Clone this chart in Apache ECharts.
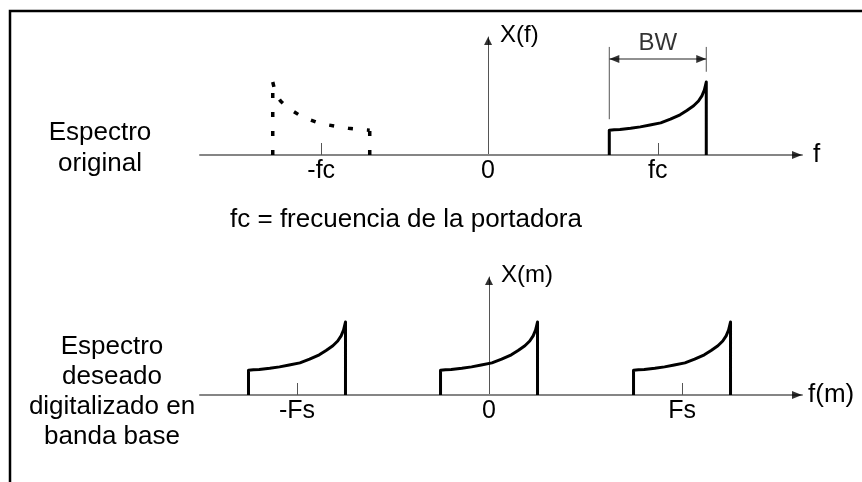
<!DOCTYPE html>
<html><head><meta charset="utf-8">
<script src="https://cdn.jsdelivr.net/npm/echarts@6/dist/echarts.min.js"></script>
<style>html,body{margin:0;padding:0;background:#fff}#c{width:862px;height:482px}</style>
</head><body><div id="c"></div>
<script>
// Shape of one band (relative position across the band, relative amplitude)
const shapeT = [0, 0.05, 0.11, 0.22, 0.32, 0.42, 0.53, 0.63, 0.73, 0.80, 0.87, 0.92, 0.955, 0.98, 1.0];
const shapeH = [0.34, 0.345, 0.35, 0.365, 0.385, 0.41, 0.44, 0.49, 0.55, 0.61, 0.675, 0.74, 0.81, 0.89, 1.0];
const bandwidth = 1;

// Top panel: original spectrum
const topSolidCenters = [1.75];
const topMirrorCenters = [-1.72];
const topTickValues = [-1.72, 0, 1.75];
const topTickLabels = ['-fc', '0', 'fc'];
const topRange = [-2.97, 3.237];

// Bottom panel: baseband spectrum
const bottomCenters = [-1.98, 0, 1.99];
const bottomTickValues = [-1.98, 0, 1.99];
const bottomTickLabels = ['-Fs', '0', 'Fs'];
const bottomRange = [-2.98, 3.227];

const yMax = 1.616;

// BW annotation (data units of the top panel)
const bwArrowY = 1.315;
const bwGuideTop = 1.48;
const bwGuideLeftBottom = 0.49;
const bwGuideRightBottom = 1.14;
const bwLabelY = 1.535;

const FONT = '"Liberation Sans", Arial, sans-serif';

function band(center) {
  const L = center - bandwidth / 2, R = center + bandwidth / 2;
  const pts = [[L, 0]];
  shapeT.forEach((t, i) => pts.push([L + t * bandwidth, shapeH[i]]));
  pts.push([R, 0]);
  return pts;
}
// mirrored band split in three pieces (each dotted from its lower end)
function mirrorPieces(center) {
  const L = center - bandwidth / 2, R = center + bandwidth / 2;
  const last = shapeH.length - 1;
  const curve = [];
  for (let i = last; i >= 0; i--) curve.push([R - shapeT[i] * bandwidth, shapeH[i]]);
  return [
    [[L, 0], [L, shapeH[last]]],
    curve,
    [[R, 0], [R, shapeH[0]]]
  ];
}

function labelFormatter(values, labels) {
  return function (v) {
    for (let i = 0; i < values.length; i++) if (Math.abs(values[i] - v) < 1e-6) return labels[i];
    return '';
  };
}

const RIGHT_ARROW = 'path://M0,0L10,5L0,10Z';
const LEFT_ARROW = 'path://M10,0L0,5L10,10Z';

function xAxisCfg(grid, range, tickVals, tickLabels, name, nameGap) {
  return {
    gridIndex: grid, type: 'value', min: range[0], max: range[1],
    axisLine: { onZero: true, lineStyle: { color: '#858585', width: 2 } },
    axisTick: { show: true, inside: true, length: 12, customValues: tickVals.filter(v => v !== 0),
      lineStyle: { color: '#555', width: 1 } },
    axisLabel: { show: true, customValues: tickVals, formatter: labelFormatter(tickVals, tickLabels),
      color: '#000', fontSize: 25, fontFamily: FONT, margin: 4 },
    splitLine: { show: false },
    name: name, nameLocation: 'end', nameGap: nameGap,
    nameTextStyle: { color: '#000', fontSize: 26, fontFamily: FONT, align: 'left', verticalAlign: 'middle' }
  };
}
function yAxisCfg(grid, name) {
  return {
    gridIndex: grid, type: 'value', min: 0, max: yMax,
    axisLine: { show: true, onZero: true, lineStyle: { color: '#555', width: 1 } },
    axisTick: { show: false }, axisLabel: { show: false }, splitLine: { show: false },
    name: name, nameLocation: 'end', nameGap: 2,
    nameTextStyle: { color: '#000', fontSize: 24, fontFamily: FONT, align: 'left', verticalAlign: 'middle', padding: [0, 0, 0, 12] }
  };
}

const solidStyle = { color: '#000', width: 3, join: 'round' };
const dottedStyle = { color: '#000', width: 3.5, type: [5, 14] };
const series = [];
function lineSeries(xi, data, style) {
  series.push({ type: 'line', xAxisIndex: xi, yAxisIndex: xi, data: data, symbol: 'none', showSymbol: false,
    lineStyle: style, clip: false, animation: false, silent: true, z: 3 });
}
function arrowSeries(xi, data, symbol, size, offset) {
  series.push({ type: 'scatter', xAxisIndex: xi, yAxisIndex: xi, data: data, symbol: symbol, symbolSize: size,
    symbolOffset: offset, itemStyle: { color: '#000' }, clip: false, animation: false, silent: true, z: 5 });
}

topSolidCenters.forEach(c => lineSeries(0, band(c), solidStyle));
topMirrorCenters.forEach(c => mirrorPieces(c).forEach(p => lineSeries(0, p, dottedStyle)));
bottomCenters.forEach(c => lineSeries(1, band(c), solidStyle));

// BW annotation
const bwL = topSolidCenters[0] - bandwidth / 2, bwR = topSolidCenters[0] + bandwidth / 2;
lineSeries(0, [[bwL, bwArrowY], [bwR, bwArrowY]], { color: '#222', width: 1.2 });
lineSeries(0, [[bwL, bwGuideLeftBottom], [bwL, bwGuideTop]], { color: '#555', width: 1 });
lineSeries(0, [[bwR, bwGuideRightBottom], [bwR, bwGuideTop]], { color: '#555', width: 1 });
arrowSeries(0, [[bwR, bwArrowY]], RIGHT_ARROW, [10, 8], [-5, 0]);
arrowSeries(0, [[bwL, bwArrowY]], LEFT_ARROW, [10, 8], [5, 0]);
series.push({ type: 'scatter', xAxisIndex: 0, yAxisIndex: 0, data: [[topSolidCenters[0], bwLabelY]], symbolSize: 0,
  label: { show: true, position: 'inside', formatter: 'BW', color: '#000', fontSize: 24, fontFamily: FONT },
  clip: false, animation: false, silent: true });

// axis arrowheads
arrowSeries(0, [[topRange[1], 0]], RIGHT_ARROW, [10, 8], [-5, 0]);
arrowSeries(1, [[bottomRange[1], 0]], RIGHT_ARROW, [10, 8], [-5, 0]);
arrowSeries(0, [[0, yMax]], 'triangle', [8, 8], [0, 4]);
arrowSeries(1, [[0, yMax]], 'triangle', [8, 8], [0, 4]);

const chart = echarts.init(document.getElementById('c'), null, { renderer: 'canvas' });
chart.setOption({
  animation: false,
  backgroundColor: '#fff',
  grid: [
    { left: 200, top: 37, width: 602, height: 118 },
    { left: 200, top: 277, width: 602, height: 118 }
  ],
  xAxis: [
    xAxisCfg(0, topRange, topTickValues, topTickLabels, 'f', 11),
    xAxisCfg(1, bottomRange, bottomTickValues, bottomTickLabels, 'f(m)', 6)
  ],
  yAxis: [yAxisCfg(0, 'X(f)'), yAxisCfg(1, 'X(m)')],
  series: series,
  graphic: [
    { type: 'rect', shape: { x: 10, y: 11, width: 900, height: 520 }, style: { fill: 'none', stroke: '#000', lineWidth: 2.5 }, silent: true },
    { type: 'text', x: 100, y: 148, style: { text: 'Espectro\noriginal', textAlign: 'center', textVerticalAlign: 'middle',
      fontSize: 26, fontFamily: FONT, lineHeight: 31, fill: '#000' } },
    { type: 'text', x: 112, y: 392, style: { text: 'Espectro\ndeseado\ndigitalizado en\nbanda base', textAlign: 'center', textVerticalAlign: 'middle',
      fontSize: 26, fontFamily: FONT, lineHeight: 30, fill: '#000' } },
    { type: 'text', x: 406, y: 220, style: { text: 'fc = frecuencia de la portadora', textAlign: 'center', textVerticalAlign: 'middle',
      fontSize: 26, fontFamily: FONT, fill: '#000' } }
  ]
});
</script></body></html>
